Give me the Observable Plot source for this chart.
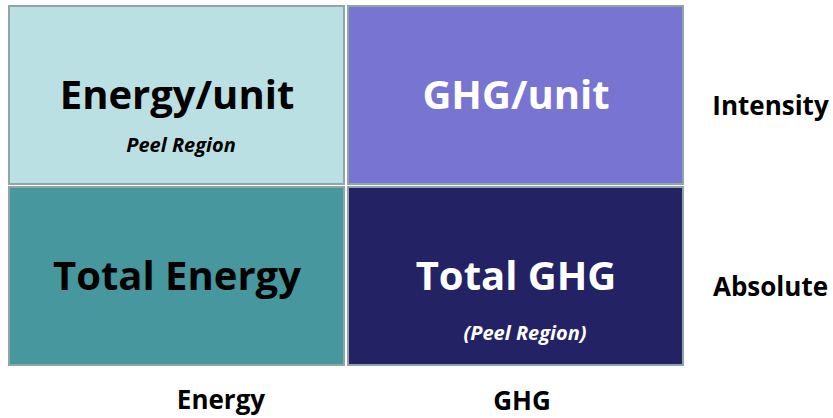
<!DOCTYPE html>
<html>
<head>
<meta charset="utf-8">
<script src="https://cdn.jsdelivr.net/npm/d3@7"></script>
<script src="https://cdn.jsdelivr.net/npm/@observablehq/plot@0.6"></script>
<style>
  html, body { margin: 0; padding: 0; background: #fff; }
  #chart svg { display: block; }
</style>
</head>
<body>
<div id="chart"></div>
<script>
const columns = ["Energy", "GHG"];
const rows = ["Intensity", "Absolute"];
const cellColumn = ["Energy", "GHG", "Energy", "GHG"];
const cellRow = ["Intensity", "Intensity", "Absolute", "Absolute"];
const cellTitle = ["Energy/unit", "GHG/unit", "Total Energy", "Total GHG"];
const cellSub = ["Peel Region", "", "", "(Peel Region)"];
const cellFill = ["#bbe0e3", "#7874d1", "#46979e", "#232265"];
const cellText = ["#000000", "#ffffff", "#000000", "#ffffff"];

const cells = cellTitle.map((t, i) => ({
  col: cellColumn[i], row: cellRow[i], title: t, sub: cellSub[i],
  fill: cellFill[i], ink: cellText[i]
}));

const font = "'Open Sans', Lato, sans-serif";

const chart = Plot.plot({
  width: 833,
  height: 418,
  marginLeft: 7,
  marginRight: 149,
  marginTop: 4,
  marginBottom: 52,
  style: { fontFamily: font, background: "#fff", overflow: "visible" },
  x: { type: "band", domain: columns, paddingInner: 0.006, paddingOuter: 0, axis: null },
  y: { type: "band", domain: rows, paddingInner: 0.008, paddingOuter: 0, axis: null },
  marks: [
    Plot.cell(cells, {
      x: "col", y: "row", fill: d => d.fill,
      stroke: "#8fa5a8", strokeWidth: 2, inset: 1
    }),
    Plot.text(cells, {
      x: "col", y: "row", text: "title", fill: d => d.ink,
      fontSize: 40, fontWeight: "bold", dy: 1
    }),
    Plot.text(cells.filter(d => d.row === "Intensity" && d.sub), {
      x: "col", y: "row", text: "sub", fill: d => d.ink,
      fontSize: 20, fontWeight: "bold", fontStyle: "italic", dy: 50, dx: 4
    }),
    Plot.text(cells.filter(d => d.row === "Absolute" && d.sub), {
      x: "col", y: "row", text: "sub", fill: d => d.ink,
      fontSize: 20, fontWeight: "bold", fontStyle: "italic", dy: 57, dx: 9
    }),
    Plot.text(rows, {
      y: d => d, text: d => d, frameAnchor: "right", textAnchor: "middle",
      dx: 86, dy: 11, fontSize: 26, fontWeight: "bold", fill: "#000"
    }),
    Plot.text(columns.filter(c => c === "Energy"), {
      x: d => d, text: d => d, frameAnchor: "bottom", lineAnchor: "middle",
      dx: 44, dy: 34, fontSize: 26, fontWeight: "bold", fill: "#000"
    }),
    Plot.text(columns.filter(c => c === "GHG"), {
      x: d => d, text: d => d, frameAnchor: "bottom", lineAnchor: "middle",
      dx: 6, dy: 35, fontSize: 26, fontWeight: "bold", fill: "#000"
    })
  ]
});
document.getElementById("chart").append(chart);
</script>
</body>
</html>
